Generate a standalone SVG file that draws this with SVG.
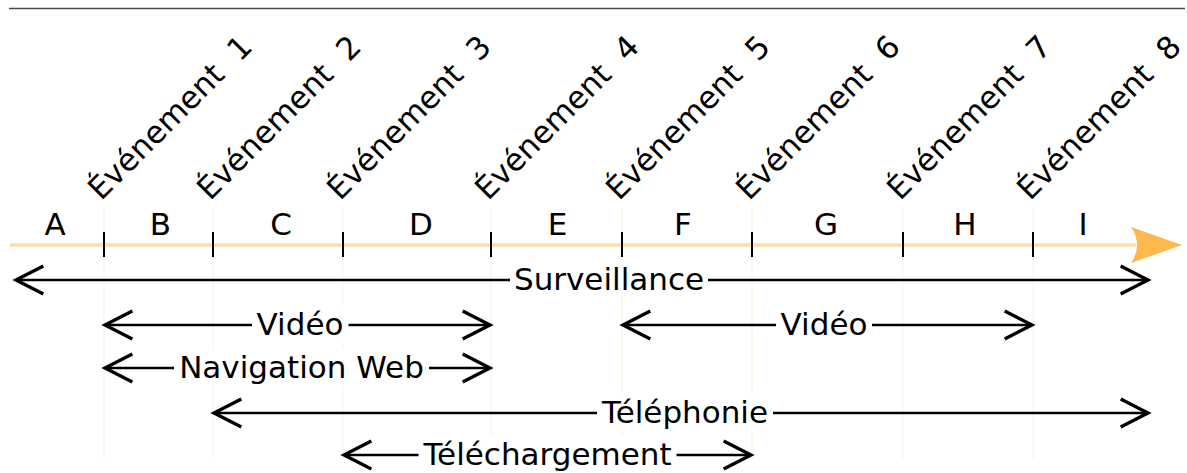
<svg xmlns="http://www.w3.org/2000/svg" width="1187" height="473" viewBox="0 0 1187 473">
<style>
text{font-family:"DejaVu Sans",sans-serif;font-size:31px;fill:#000}
.ev{white-space:pre}
.guide{stroke:#ffb84d;stroke-opacity:0.22;stroke-width:1}
.tick{stroke:#000;stroke-width:2}
.conn{stroke:#000;stroke-width:2.5;fill:none;marker-start:url(#chev);marker-end:url(#chev)}
.bg{fill:#fff}
.lbl{text-anchor:middle}
</style>
<defs>
<marker id="chev" markerUnits="userSpaceOnUse" markerWidth="40" markerHeight="40" refX="0" refY="0" viewBox="-25 -15 30 30" orient="auto-start-reverse" overflow="visible">
<path d="M-20.5,-10.5 L0,0 L-20.5,10.5" fill="none" stroke="#000" stroke-width="2.5"/>
</marker>
</defs>
<rect width="1187" height="473" fill="#fff"/>
<line x1="9" y1="8.5" x2="1185" y2="8.5" stroke="#4a4a4a" stroke-width="1.3"/>
<g id="guides">
<line class="guide" x1="104" y1="208" x2="104" y2="459"/>
<line class="guide" x1="213" y1="208" x2="213" y2="459"/>
<line class="guide" x1="343" y1="208" x2="343" y2="459"/>
<line class="guide" x1="491" y1="208" x2="491" y2="459"/>
<line class="guide" x1="622" y1="208" x2="622" y2="459"/>
<line class="guide" x1="752" y1="208" x2="752" y2="459"/>
<line class="guide" x1="903" y1="208" x2="903" y2="459"/>
<line class="guide" x1="1033" y1="208" x2="1033" y2="459"/>
</g>
<g id="timeline">
<line x1="10" y1="245" x2="1136" y2="245" stroke="#ffb84d" stroke-opacity="0.5" stroke-width="3.5"/>
<path d="M1182,245 L1131,227 Q1143,245 1131,263 Z" fill="#ffb84d"/>
<line class="tick" x1="104" y1="232" x2="104" y2="257"/>
<line class="tick" x1="213" y1="232" x2="213" y2="257"/>
<line class="tick" x1="343" y1="232" x2="343" y2="257"/>
<line class="tick" x1="491" y1="232" x2="491" y2="257"/>
<line class="tick" x1="622" y1="232" x2="622" y2="257"/>
<line class="tick" x1="752" y1="232" x2="752" y2="257"/>
<line class="tick" x1="903" y1="232" x2="903" y2="257"/>
<line class="tick" x1="1033" y1="232" x2="1033" y2="257"/>
</g>
<g id="periods" class="lbl">
<text x="55" y="234.5">A</text>
<text x="160.5" y="234.5">B</text>
<text x="281" y="234.5">C</text>
<text x="421" y="234.5">D</text>
<text x="557.5" y="234.5">E</text>
<text x="683" y="234.5">F</text>
<text x="826" y="234.5">G</text>
<text x="965" y="234.5">H</text>
<text x="1083" y="234.5">I</text>
</g>
<g id="event1"><text class="ev" transform="translate(101,201.5) rotate(-45)">Événement  1</text></g>
<g id="event2"><text class="ev" transform="translate(210,201.5) rotate(-45)">Événement  2</text></g>
<g id="event3"><text class="ev" transform="translate(340,201.5) rotate(-45)">Événement  3</text></g>
<g id="event4"><text class="ev" transform="translate(488,201.5) rotate(-45)">Événement  4</text></g>
<g id="event5"><text class="ev" transform="translate(619,201.5) rotate(-45)">Événement  5</text></g>
<g id="event6"><text class="ev" transform="translate(749,201.5) rotate(-45)">Événement  6</text></g>
<g id="event7"><text class="ev" transform="translate(900,201.5) rotate(-45)">Événement  7</text></g>
<g id="event8"><text class="ev" transform="translate(1030,201.5) rotate(-45)">Événement  8</text></g>
<g id="connectors">
<line class="conn" x1="16" y1="280" x2="1148" y2="280"/>
<line class="conn" x1="105" y1="325" x2="490" y2="325"/>
<line class="conn" x1="623" y1="325" x2="1032" y2="325"/>
<line class="conn" x1="105" y1="368" x2="490" y2="368"/>
<line class="conn" x1="214" y1="413" x2="1148" y2="413"/>
<line class="conn" x1="344" y1="455" x2="751" y2="455"/>
<rect class="bg" x="510" y="261" width="198" height="36"/>
<rect class="bg" x="252" y="306" width="96.5" height="36"/>
<rect class="bg" x="776" y="306" width="96" height="36"/>
<rect class="bg" x="174" y="349" width="255" height="36"/>
<rect class="bg" x="597" y="394" width="176" height="36"/>
<rect class="bg" x="418.5" y="436" width="258" height="36"/>
<g class="lbl">
<text x="609" y="289.5">Surveillance</text>
<text x="300" y="334.5">Vidéo</text>
<text x="824" y="334.5">Vidéo</text>
<text x="301.5" y="377.5">Navigation Web</text>
<text x="685" y="422.5">Téléphonie</text>
<text x="547.5" y="464.5">Téléchargement</text>
</g>
</g>
</svg>
